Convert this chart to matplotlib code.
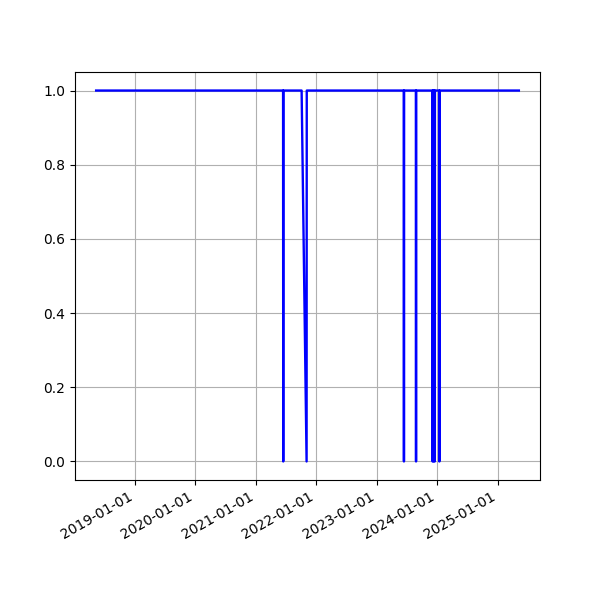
import matplotlib
matplotlib.use("Agg")
import matplotlib.pyplot as plt
import matplotlib.dates as mdates
import pandas as pd

# sample dates and status values (1 = up, 0 = down)
dates = ["2018-05-13",
         "2021-06-15", "2021-06-16", "2021-06-17",
         "2021-10-05", "2021-11-04", "2021-11-05",
         "2023-06-14", "2023-06-15", "2023-06-16",
         "2023-08-26", "2023-08-27", "2023-08-28",
         "2023-12-04", "2023-12-05", "2023-12-06",
         "2023-12-10", "2023-12-11", "2023-12-12",
         "2023-12-17", "2023-12-18", "2023-12-19",
         "2024-01-14", "2024-01-15", "2024-01-16",
         "2025-05-09"]
status = [1,
          1, 0, 1,
          1, 0, 1,
          1, 0, 1,
          1, 0, 1,
          1, 0, 1,
          1, 0, 1,
          1, 0, 1,
          1, 0, 1,
          1]

x = pd.to_datetime(dates)

fig, ax = plt.subplots(figsize=(6, 6), dpi=100)
ax.plot(x, status, color='blue', linewidth=1.7)
ax.grid(True)
ax.xaxis.set_major_locator(mdates.YearLocator())
ax.xaxis.set_major_formatter(mdates.DateFormatter('%Y-%m-%d'))
fig.autofmt_xdate()

plt.savefig("out.png", dpi=100)
